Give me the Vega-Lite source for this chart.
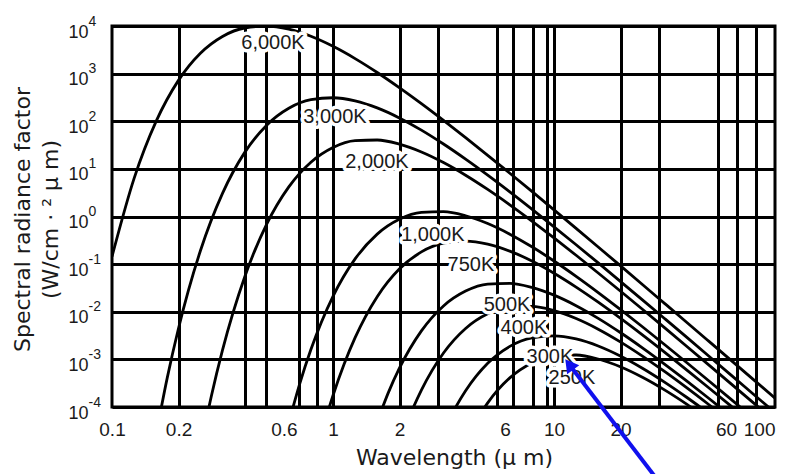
{
  "$schema": "https://vega.github.io/schema/vega-lite/v6.json",
  "width": 663,
  "height": 381,
  "autosize": "none",
  "padding": {"left": 112, "top": 26, "right": 11, "bottom": 67},
  "background": "white",
  "config": {
    "view": {"stroke": "black", "strokeWidth": 3},
    "axis": {"labelFont": "Liberation Sans", "titleFont": "DejaVu Sans", "labelColor": "#1a1a1a", "titleColor": "#1a1a1a", "titleFontWeight": "normal"}
  },
  "datasets": {
    "curves": [
      {"T": "6000K", "lam": 0.1, "M": 0.144}, {"T": "6000K", "lam": 0.1259, "M": 6.32}, {"T": "6000K", "lam": 0.1585, "M": 100.5}, {"T": "6000K", "lam": 0.1995, "M": 713}, {"T": "6000K", "lam": 0.2512, "M": 2673}, {"T": "6000K", "lam": 0.3162, "M": 6026}, {"T": "6000K", "lam": 0.3981, "M": 9077}, {"T": "6000K", "lam": 0.5012, "M": 9977}, {"T": "6000K", "lam": 0.631, "M": 8551}, {"T": "6000K", "lam": 0.7943, "M": 6078}, {"T": "6000K", "lam": 1, "M": 3742}, {"T": "6000K", "lam": 1.259, "M": 2069}, {"T": "6000K", "lam": 1.585, "M": 1057}, {"T": "6000K", "lam": 1.995, "M": 508.6}, {"T": "6000K", "lam": 2.512, "M": 234.2}, {"T": "6000K", "lam": 3.162, "M": 104.3}, {"T": "6000K", "lam": 3.981, "M": 45.27}, {"T": "6000K", "lam": 5.012, "M": 19.29}, {"T": "6000K", "lam": 6.31, "M": 8.09}, {"T": "6000K", "lam": 7.943, "M": 3.36}, {"T": "6000K", "lam": 10, "M": 1.381}, {"T": "6000K", "lam": 12.59, "M": 0.564}, {"T": "6000K", "lam": 15.85, "M": 0.229}, {"T": "6000K", "lam": 19.95, "M": 0.0927}, {"T": "6000K", "lam": 25.12, "M": 0.03735}, {"T": "6000K", "lam": 31.62, "M": 0.01502}, {"T": "6000K", "lam": 39.81, "M": 0.00603}, {"T": "6000K", "lam": 50.12, "M": 0.002415}, {"T": "6000K", "lam": 63.1, "M": 0.000966}, {"T": "6000K", "lam": 79.43, "M": 0.000386}, {"T": "6000K", "lam": 100, "M": 0.000154},
      {"T": "3000K", "lam": 0.1585, "M": 0.0000269}, {"T": "3000K", "lam": 0.1778, "M": 0.000409}, {"T": "3000K", "lam": 0.1995, "M": 0.0043}, {"T": "3000K", "lam": 0.2512, "M": 0.191}, {"T": "3000K", "lam": 0.3162, "M": 3.066}, {"T": "3000K", "lam": 0.3981, "M": 21.94}, {"T": "3000K", "lam": 0.5012, "M": 82.75}, {"T": "3000K", "lam": 0.631, "M": 187.2}, {"T": "3000K", "lam": 0.7943, "M": 283.1}, {"T": "3000K", "lam": 1, "M": 311.8}, {"T": "3000K", "lam": 1.259, "M": 268.2}, {"T": "3000K", "lam": 1.585, "M": 190.8}, {"T": "3000K", "lam": 1.995, "M": 117.6}, {"T": "3000K", "lam": 2.512, "M": 65.1}, {"T": "3000K", "lam": 3.162, "M": 33.27}, {"T": "3000K", "lam": 3.981, "M": 16.02}, {"T": "3000K", "lam": 5.012, "M": 7.38}, {"T": "3000K", "lam": 6.31, "M": 3.287}, {"T": "3000K", "lam": 7.943, "M": 1.427}, {"T": "3000K", "lam": 10, "M": 0.608}, {"T": "3000K", "lam": 12.59, "M": 0.2552}, {"T": "3000K", "lam": 15.85, "M": 0.1059}, {"T": "3000K", "lam": 19.95, "M": 0.04354}, {"T": "3000K", "lam": 25.12, "M": 0.01779}, {"T": "3000K", "lam": 31.62, "M": 0.00722}, {"T": "3000K", "lam": 39.81, "M": 0.002923}, {"T": "3000K", "lam": 50.12, "M": 0.001179}, {"T": "3000K", "lam": 63.1, "M": 0.000474}, {"T": "3000K", "lam": 79.43, "M": 0.00019}, {"T": "3000K", "lam": 100, "M": 0.0000762},
      {"T": "2000K", "lam": 0.2512, "M": 0.0000136}, {"T": "2000K", "lam": 0.2818, "M": 0.000172}, {"T": "2000K", "lam": 0.3162, "M": 0.001561}, {"T": "2000K", "lam": 0.3981, "M": 0.0531}, {"T": "2000K", "lam": 0.5012, "M": 0.692}, {"T": "2000K", "lam": 0.631, "M": 4.18}, {"T": "2000K", "lam": 0.7943, "M": 13.8}, {"T": "2000K", "lam": 1, "M": 28.12}, {"T": "2000K", "lam": 1.259, "M": 39.19}, {"T": "2000K", "lam": 1.585, "M": 40.4}, {"T": "2000K", "lam": 1.995, "M": 33.04}, {"T": "2000K", "lam": 2.512, "M": 22.63}, {"T": "2000K", "lam": 3.162, "M": 13.56}, {"T": "2000K", "lam": 3.981, "M": 7.35}, {"T": "2000K", "lam": 5.012, "M": 3.698}, {"T": "2000K", "lam": 6.31, "M": 1.759}, {"T": "2000K", "lam": 7.943, "M": 0.803}, {"T": "2000K", "lam": 10, "M": 0.3553}, {"T": "2000K", "lam": 12.59, "M": 0.1536}, {"T": "2000K", "lam": 15.85, "M": 0.0651}, {"T": "2000K", "lam": 19.95, "M": 0.02725}, {"T": "2000K", "lam": 25.12, "M": 0.01128}, {"T": "2000K", "lam": 31.62, "M": 0.004632}, {"T": "2000K", "lam": 39.81, "M": 0.001889}, {"T": "2000K", "lam": 50.12, "M": 0.000767}, {"T": "2000K", "lam": 63.1, "M": 0.00031}, {"T": "2000K", "lam": 79.43, "M": 0.0001249}, {"T": "2000K", "lam": 100, "M": 0.0000502},
      {"T": "1000K", "lam": 0.631, "M": 0.0000469}, {"T": "1000K", "lam": 0.7079, "M": 0.000314}, {"T": "1000K", "lam": 0.7943, "M": 0.001606}, {"T": "1000K", "lam": 1, "M": 0.0211}, {"T": "1000K", "lam": 1.259, "M": 0.1287}, {"T": "1000K", "lam": 1.585, "M": 0.4269}, {"T": "1000K", "lam": 1.995, "M": 0.874}, {"T": "1000K", "lam": 2.512, "M": 1.222}, {"T": "1000K", "lam": 3.162, "M": 1.264}, {"T": "1000K", "lam": 3.981, "M": 1.036}, {"T": "1000K", "lam": 5.012, "M": 0.711}, {"T": "1000K", "lam": 6.31, "M": 0.4262}, {"T": "1000K", "lam": 7.943, "M": 0.2312}, {"T": "1000K", "lam": 10, "M": 0.1163}, {"T": "1000K", "lam": 12.59, "M": 0.0554}, {"T": "1000K", "lam": 15.85, "M": 0.02529}, {"T": "1000K", "lam": 19.95, "M": 0.01119}, {"T": "1000K", "lam": 25.12, "M": 0.004839}, {"T": "1000K", "lam": 31.62, "M": 0.002054}, {"T": "1000K", "lam": 39.81, "M": 0.00086}, {"T": "1000K", "lam": 50.12, "M": 0.000356}, {"T": "1000K", "lam": 63.1, "M": 0.0001461}, {"T": "1000K", "lam": 79.43, "M": 0.0000596},
      {"T": "750K", "lam": 0.7943, "M": 0.00000383}, {"T": "750K", "lam": 0.8913, "M": 0.0000298}, {"T": "750K", "lam": 1, "M": 0.0001744}, {"T": "750K", "lam": 1.122, "M": 0.00079}, {"T": "750K", "lam": 1.259, "M": 0.002852}, {"T": "750K", "lam": 1.585, "M": 0.0207}, {"T": "750K", "lam": 1.995, "M": 0.0789}, {"T": "750K", "lam": 2.512, "M": 0.1805}, {"T": "750K", "lam": 3.162, "M": 0.2752}, {"T": "750K", "lam": 3.981, "M": 0.3047}, {"T": "750K", "lam": 5.012, "M": 0.2633}, {"T": "750K", "lam": 6.31, "M": 0.1878}, {"T": "750K", "lam": 7.943, "M": 0.1161}, {"T": "750K", "lam": 10, "M": 0.0644}, {"T": "750K", "lam": 12.59, "M": 0.03296}, {"T": "750K", "lam": 15.85, "M": 0.01589}, {"T": "750K", "lam": 19.95, "M": 0.007323}, {"T": "750K", "lam": 25.12, "M": 0.003265}, {"T": "750K", "lam": 31.62, "M": 0.001418}, {"T": "750K", "lam": 39.81, "M": 0.000604}, {"T": "750K", "lam": 50.12, "M": 0.000254}, {"T": "750K", "lam": 63.1, "M": 0.0001053}, {"T": "750K", "lam": 79.43, "M": 0.0000433},
      {"T": "500K", "lam": 1.585, "M": 0.0000486}, {"T": "500K", "lam": 1.778, "M": 0.000198}, {"T": "500K", "lam": 1.995, "M": 0.000644}, {"T": "500K", "lam": 2.512, "M": 0.00396}, {"T": "500K", "lam": 3.162, "M": 0.01323}, {"T": "500K", "lam": 3.981, "M": 0.02716}, {"T": "500K", "lam": 5.012, "M": 0.03815}, {"T": "500K", "lam": 6.31, "M": 0.03952}, {"T": "500K", "lam": 7.943, "M": 0.03246}, {"T": "500K", "lam": 10, "M": 0.0223}, {"T": "500K", "lam": 12.59, "M": 0.0134}, {"T": "500K", "lam": 15.85, "M": 0.007269}, {"T": "500K", "lam": 19.95, "M": 0.003663}, {"T": "500K", "lam": 25.12, "M": 0.001745}, {"T": "500K", "lam": 31.62, "M": 0.000797}, {"T": "500K", "lam": 39.81, "M": 0.000353}, {"T": "500K", "lam": 50.12, "M": 0.0001526}, {"T": "500K", "lam": 63.1, "M": 0.0000648},
      {"T": "400K", "lam": 1.995, "M": 0.0000175}, {"T": "400K", "lam": 2.239, "M": 0.00007}, {"T": "400K", "lam": 2.512, "M": 0.000226}, {"T": "400K", "lam": 3.162, "M": 0.00136}, {"T": "400K", "lam": 3.981, "M": 0.004457}, {"T": "400K", "lam": 5.012, "M": 0.00906}, {"T": "400K", "lam": 6.31, "M": 0.01255}, {"T": "400K", "lam": 7.943, "M": 0.01292}, {"T": "400K", "lam": 10, "M": 0.01054}, {"T": "400K", "lam": 12.59, "M": 0.00721}, {"T": "400K", "lam": 15.85, "M": 0.004312}, {"T": "400K", "lam": 19.95, "M": 0.002335}, {"T": "400K", "lam": 25.12, "M": 0.001174}, {"T": "400K", "lam": 31.62, "M": 0.000559}, {"T": "400K", "lam": 39.81, "M": 0.000255}, {"T": "400K", "lam": 50.12, "M": 0.0001128}, {"T": "400K", "lam": 63.1, "M": 0.0000487},
      {"T": "300K", "lam": 3.162, "M": 0.0000307}, {"T": "300K", "lam": 3.548, "M": 0.0000898}, {"T": "300K", "lam": 3.981, "M": 0.000219}, {"T": "300K", "lam": 5.012, "M": 0.000827}, {"T": "300K", "lam": 6.31, "M": 0.001872}, {"T": "300K", "lam": 7.943, "M": 0.00283}, {"T": "300K", "lam": 10, "M": 0.003118}, {"T": "300K", "lam": 12.59, "M": 0.00268}, {"T": "300K", "lam": 15.85, "M": 0.001908}, {"T": "300K", "lam": 19.95, "M": 0.001176}, {"T": "300K", "lam": 25.12, "M": 0.000651}, {"T": "300K", "lam": 31.62, "M": 0.000333}, {"T": "300K", "lam": 39.81, "M": 0.0001602}, {"T": "300K", "lam": 50.12, "M": 0.0000738},
      {"T": "250K", "lam": 3.981, "M": 0.0000197}, {"T": "250K", "lam": 4.467, "M": 0.0000533}, {"T": "250K", "lam": 5.012, "M": 0.0001221}, {"T": "250K", "lam": 6.31, "M": 0.000409}, {"T": "250K", "lam": 7.943, "M": 0.000844}, {"T": "250K", "lam": 10, "M": 0.001189}, {"T": "250K", "lam": 12.59, "M": 0.001237}, {"T": "250K", "lam": 15.85, "M": 0.001018}, {"T": "250K", "lam": 19.95, "M": 0.0007}, {"T": "250K", "lam": 25.12, "M": 0.000421}, {"T": "250K", "lam": 31.62, "M": 0.000229}, {"T": "250K", "lam": 39.81, "M": 0.0001153}, {"T": "250K", "lam": 50.12, "M": 0.000055}
    ],
    "labels": [
      {"label": "6,000K", "lam": 0.535, "M": 4395},
      {"label": "3,000K", "lam": 1.02, "M": 122.8},
      {"label": "2,000K", "lam": 1.58, "M": 13.9},
      {"label": "1,000K", "lam": 2.83, "M": 0.409},
      {"label": "750K", "lam": 4.21, "M": 0.0959},
      {"label": "500K", "lam": 6.13, "M": 0.01387},
      {"label": "400K", "lam": 7.31, "M": 0.00456},
      {"label": "300K", "lam": 9.59, "M": 0.001122},
      {"label": "250K", "lam": 12.06, "M": 0.000406}
    ],
    "arrow": [
      {"lam": 30.2, "M": 0.0000025},
      {"lam": 11.72, "M": 0.00078}
    ],
    "arrowhead": [
      {"lam": 11.72, "M": 0.00078}
    ]
  },
  "layer": [
    {
      "data": {"name": "curves"},
      "mark": {"type": "line", "color": "black", "strokeWidth": 2.8, "clip": true, "interpolate": "monotone"},
      "encoding": {
        "x": {
          "field": "lam", "type": "quantitative",
          "scale": {"type": "log", "domain": [0.1, 100]},
          "axis": {"orient": "bottom", "values": [0.2, 0.4, 0.5, 0.7, 0.85, 1, 2, 3, 5.5, 6.5, 8, 9.3, 10, 20, 30, 55, 67, 82], "labels": false, "ticks": false, "tickSize": 0, "domain": false, "grid": true, "gridColor": "black", "gridWidth": 3, "gridOpacity": 1, "title": null}
        },
        "y": {
          "field": "M", "type": "quantitative",
          "scale": {"type": "log", "domain": [0.0001, 10000]},
          "axis": {
            "orient": "left",
            "values": [0.0001, 0.001, 0.01, 0.1, 1, 10, 100, 1000, 10000],
            "labelExpr": "'10'", "labelFontSize": 18, "labelPadding": 24, "labelOffset": 6, "labelAlign": "right", "labelBaseline": "middle", "labelOverlap": false,
            "ticks": false, "tickSize": 0, "domain": false,
            "grid": true, "gridColor": "black", "gridWidth": 3, "gridOpacity": 1,
            "title": ["Spectral radiance factor", "(W/cm · ² μ m)"],
            "titleFontSize": 22, "titleX": -90, "titleY": 193, "titleAngle": -90, "titleAlign": "center", "titleBaseline": "middle", "titleLineHeight": 28
          }
        },
        "detail": {"field": "T"}
      }
    },
    {
      "data": {"name": "labels"},
      "mark": {"type": "text", "font": "Liberation Sans", "fontSize": 20, "fill": "white", "stroke": "white", "strokeWidth": 7, "strokeJoin": "round", "align": "center", "baseline": "middle"},
      "encoding": {
        "x": {
          "field": "lam", "type": "quantitative",
          "axis": {
            "orient": "bottom",
            "values": [0.1, 0.2, 0.6, 1, 2, 6, 10, 20, 60, 100],
            "labelExpr": "datum.value < 1 ? format(datum.value, '.1f') : format(datum.value, 'd')",
            "labelFontSize": 19, "labelPadding": 13.5, "labelBaseline": "top", "labelFlush": false, "labelOverlap": false,
            "labelAlign": {"condition": {"test": "datum.value >= 100", "value": "right"}, "value": "center"},
            "grid": false, "ticks": false, "tickSize": 0, "domain": false,
            "title": "Wavelength (μ m)", "titleFontSize": 22, "titleX": 342, "titleY": 57, "titleBaseline": "alphabetic", "titleAlign": "center", "titleAnchor": "start"
          }
        },
        "y": {
          "field": "M", "type": "quantitative",
          "axis": {
            "orient": "left",
            "values": [0.0001, 0.001, 0.01, 0.1, 1, 10, 100, 1000, 10000],
            "labelExpr": "'' + round(log(datum.value) / LN10)", "labelFontSize": 14, "labelPadding": 24, "labelOffset": -5, "labelAlign": "left", "labelBaseline": "middle", "labelOverlap": false,
            "grid": false, "ticks": false, "tickSize": 0, "domain": false, "title": null
          }
        },
        "text": {"field": "label"}
      }
    },
    {
      "data": {"name": "labels"},
      "mark": {"type": "text", "font": "Liberation Sans", "fontSize": 20, "fill": "#1a1a1a", "align": "center", "baseline": "middle"},
      "encoding": {
        "x": {"field": "lam", "type": "quantitative", "axis": null},
        "y": {"field": "M", "type": "quantitative", "axis": null},
        "text": {"field": "label"}
      }
    },
    {
      "data": {"name": "arrow"},
      "mark": {"type": "line", "color": "#1010ee", "strokeWidth": 4, "clip": false},
      "encoding": {
        "x": {"field": "lam", "type": "quantitative", "axis": null},
        "y": {"field": "M", "type": "quantitative", "axis": null}
      }
    },
    {
      "data": {"name": "arrowhead"},
      "mark": {"type": "point", "shape": "triangle-up", "angle": 323, "size": 230, "filled": true, "color": "#1010ee", "opacity": 1, "clip": false},
      "encoding": {
        "x": {"field": "lam", "type": "quantitative", "axis": null},
        "y": {"field": "M", "type": "quantitative", "axis": null}
      }
    }
  ],
  "resolve": {"axis": {"x": "independent", "y": "independent"}}
}
